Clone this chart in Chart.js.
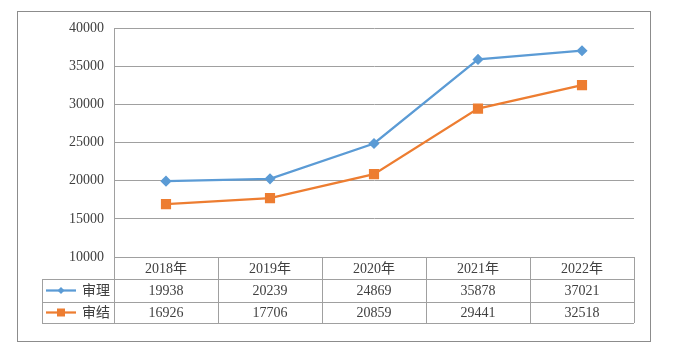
<!DOCTYPE html>
<html>
<head>
<meta charset="utf-8">
<script src="https://cdn.jsdelivr.net/npm/chart.js@4/dist/chart.umd.min.js"></script>
<style>
  html, body { margin: 0; padding: 0; background: #ffffff; }
  #wrap { position: relative; width: 697px; height: 358px; }
</style>
</head>
<body>
<div id="wrap"><canvas id="c" width="697" height="358"></canvas></div>
<script>
// ---- data ----
const categories = ['2018年', '2019年', '2020年', '2021年', '2022年'];
const seriesNames = ['审理', '审结'];
const shenli = [19938, 20239, 24869, 35878, 37021];
const shenjie = [16926, 17706, 20859, 29441, 32518];
const yTicks = [10000, 15000, 20000, 25000, 30000, 35000, 40000];

const BLUE = '#5B9BD5';
const ORANGE = '#ED7D31';
const GRID = '#a0a0a0';
const TEXT = '#404040';
const FONT = '"Liberation Serif", "Noto Sans CJK SC", serif';

const tablePlugin = {
  id: 'dataTable',
  afterDraw(chart) {
    const ctx = chart.ctx;
    const ca = chart.chartArea;
    const xs = chart.scales.x;
    const rowH = [22, 23, 21];
    const top = ca.bottom;
    const y1 = top + rowH[0];
    const y2 = y1 + rowH[1];
    const y3 = y2 + rowH[2];
    const legendLeft = 42;
    const n = categories.length;
    const colW = (ca.right - ca.left) / n;

    ctx.save();
    // outer chart border
    ctx.strokeStyle = '#8c8c8c';
    ctx.lineWidth = 1;
    ctx.strokeRect(17.5, 11.5, 633, 330);

    // table lines
    ctx.strokeStyle = GRID;
    ctx.lineWidth = 1;
    ctx.beginPath();
    ctx.moveTo(ca.left, top + 0.5); ctx.lineTo(ca.right, top + 0.5);
    ctx.moveTo(legendLeft, y1 + 0.5); ctx.lineTo(ca.right, y1 + 0.5);
    ctx.moveTo(legendLeft, y2 + 0.5); ctx.lineTo(ca.right, y2 + 0.5);
    ctx.moveTo(legendLeft, y3 + 0.5); ctx.lineTo(ca.right, y3 + 0.5);
    for (let i = 0; i <= n; i++) {
      const x = Math.round(ca.left + colW * i) + 0.5;
      ctx.moveTo(x, top); ctx.lineTo(x, y3);
    }
    ctx.moveTo(legendLeft + 0.5, y1); ctx.lineTo(legendLeft + 0.5, y3);
    ctx.stroke();

    // text
    ctx.fillStyle = TEXT;
    ctx.font = '14px ' + FONT;
    ctx.textAlign = 'center';
    ctx.textBaseline = 'middle';
    categories.forEach((c, i) => {
      const x = xs.getPixelForValue(i);
      ctx.fillText(c, x, (top + y1) / 2 + 1);
    });
    const rows = [shenli, shenjie];
    const rowMid = [(y1 + y2) / 2 + 1, (y2 + y3) / 2 + 1];
    rows.forEach((arr, r) => {
      arr.forEach((v, i) => {
        const x = xs.getPixelForValue(i);
        ctx.fillText(String(v), x, rowMid[r]);
      });
    });

    // legend keys
    const colors = [BLUE, ORANGE];
    rows.forEach((arr, r) => {
      const yy = rowMid[r] - 1;
      ctx.strokeStyle = colors[r];
      ctx.lineWidth = 2.25;
      ctx.beginPath();
      ctx.moveTo(46, yy); ctx.lineTo(76, yy);
      ctx.stroke();
      ctx.fillStyle = colors[r];
      ctx.beginPath();
      if (r === 0) {
        ctx.moveTo(61, yy - 3.5); ctx.lineTo(64.5, yy); ctx.lineTo(61, yy + 3.5); ctx.lineTo(57.5, yy);
        ctx.closePath();
      } else {
        ctx.rect(57, yy - 4, 8, 8);
      }
      ctx.fill();
      ctx.fillStyle = TEXT;
      ctx.textAlign = 'left';
      ctx.font = '14px ' + FONT;
      ctx.fillText(seriesNames[r], 82, rowMid[r]);
    });
    ctx.restore();
  }
};

new Chart(document.getElementById('c'), {
  type: 'line',
  data: {
    labels: categories,
    datasets: [
      {
        label: seriesNames[0],
        data: shenli,
        borderColor: BLUE,
        backgroundColor: BLUE,
        borderWidth: 2.25,
        pointStyle: 'rectRot',
        pointRadius: 4,
        pointHoverRadius: 4,
        tension: 0
      },
      {
        label: seriesNames[1],
        data: shenjie,
        borderColor: ORANGE,
        backgroundColor: ORANGE,
        borderWidth: 2.25,
        pointStyle: 'rect',
        pointRadius: 5.6,
        pointHoverRadius: 5.6,
        tension: 0
      }
    ]
  },
  options: {
    responsive: false,
    animation: false,
    events: [],
    layout: { padding: { left: 0, top: 28, right: 63, bottom: 101 } },
    plugins: { legend: { display: false }, tooltip: { enabled: false } },
    scales: {
      x: {
        type: 'category',
        offset: true,
        display: false
      },
      y: {
        min: 10000,
        max: 40000,
        afterFit(scale) { scale.width = 114; },
        afterBuildTicks(scale) { scale.ticks = yTicks.map(v => ({ value: v })); },
        ticks: {
          padding: 10,
          color: TEXT,
          font: { family: FONT, size: 14 },
          callback: (v) => String(v)
        },
        grid: { color: GRID, lineWidth: 1, drawTicks: false },
        border: { display: true, color: GRID, width: 1 }
      }
    }
  },
  plugins: [tablePlugin]
});
</script>
</body>
</html>
